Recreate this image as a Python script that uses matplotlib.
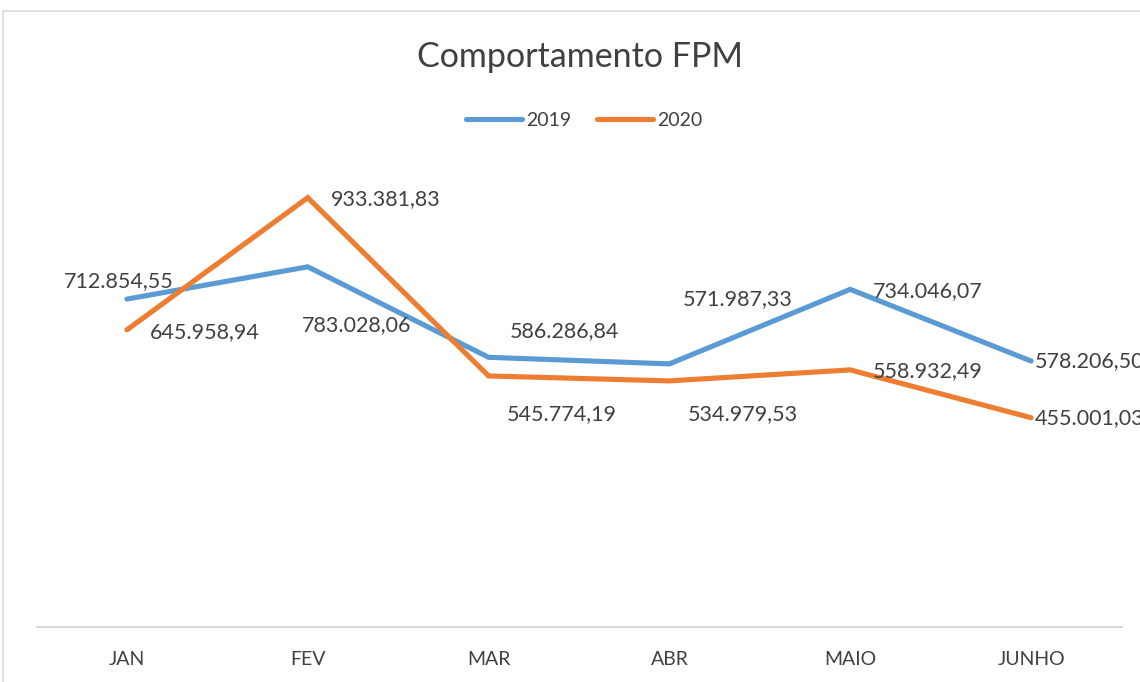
import matplotlib.pyplot as plt
from matplotlib.patches import Rectangle

plt.rcParams["font.family"] = ["Lato", "DejaVu Sans"]

meses = ["JAN", "FEV", "MAR", "ABR", "MAIO", "JUNHO"]
fpm_2019 = [712854.55, 783028.06, 586286.84, 571987.33, 734046.07, 578206.50]
fpm_2020 = [645958.94, 933381.83, 545774.19, 534979.53, 558932.49, 455001.03]

# label offsets in pixels (dx, dy, ha) as placed in the original sheet
off_2019 = [(-8, 18, "center"), (49, -58, "center"), (21, 26, "left"),
            (13, 65, "left"), (23, -2, "left"), (4, 0, "left")]
off_2020 = [(23, -2, "left"), (23, -1, "left"), (18, -38, "left"),
            (18, -33, "left"), (23, -1, "left"), (4, 0, "left")]

BLUE = "#5B9BD5"
ORANGE = "#ED7D31"
TXT = "#404040"


def fmt(v):
    s = f"{v:,.2f}"
    return s.replace(",", "X").replace(".", ",").replace("X", ".")


fig = plt.figure(figsize=(11.4, 6.82), dpi=100)
fig.patches.append(Rectangle((3 / 1140, -0.1), 1.2, (682 - 11) / 682 + 0.1,
                             transform=fig.transFigure, fill=False,
                             edgecolor="#D9D9D9", linewidth=1.2))

ax = fig.add_axes([36.5 / 1140, 55 / 682, 1085 / 1140, 460 / 682])
x = list(range(len(meses)))
ax.plot(x, fpm_2019, color=BLUE, lw=3.7, solid_capstyle="round",
        solid_joinstyle="miter", label="2019")
ax.plot(x, fpm_2020, color=ORANGE, lw=3.7, solid_capstyle="round",
        solid_joinstyle="miter", label="2020")

# the last labels run past the chart edge, same as in the source sheet
for serie, offs in ((fpm_2019, off_2019), (fpm_2020, off_2020)):
    for i, v in enumerate(serie):
        dx, dy, ha = offs[i]
        ax.annotate(fmt(v), xy=(i, v), xytext=(dx, dy),
                    textcoords="offset pixels", ha=ha, va="center",
                    fontsize=15.5, color=TXT, annotation_clip=False,
                    clip_on=False)

ax.set_xlim(-0.5, len(meses) - 0.5)
ax.set_ylim(0, 1000000)
ax.set_yticks([])
ax.set_xticks(x)
ax.set_xticklabels(meses, fontsize=14, color=TXT)
ax.tick_params(axis="x", length=0, pad=17)
for side in ("top", "left", "right"):
    ax.spines[side].set_visible(False)
ax.spines["bottom"].set_color("#D9D9D9")
ax.spines["bottom"].set_linewidth(1.5)

fig.text(580 / 1140, 1 - 57 / 682, "Comportamento FPM", ha="center",
         va="center", fontsize=24.5, color="#404040")
ax.legend(loc="center", bbox_to_anchor=(584 / 1140, 1 - 120 / 682),
          bbox_transform=fig.transFigure, ncol=2, frameon=False,
          fontsize=14, handlelength=2.9, handletextpad=0.2,
          columnspacing=1.3, labelcolor=TXT)

fig.savefig("out.png", dpi=100)
